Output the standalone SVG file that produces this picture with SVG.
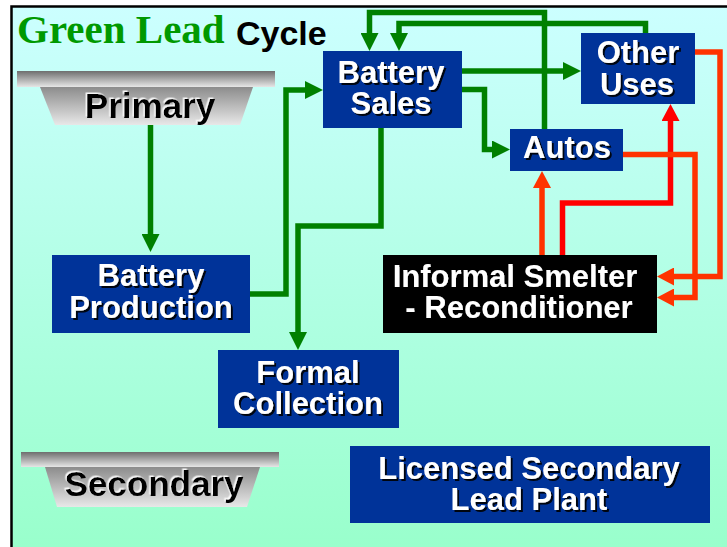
<svg xmlns="http://www.w3.org/2000/svg" width="727" height="547" viewBox="0 0 727 547">
<defs>
<linearGradient id="bg" x1="0" y1="0" x2="0" y2="1">
<stop offset="0" stop-color="#ccffff"/>
<stop offset="1" stop-color="#99ffcc"/>
</linearGradient>
<linearGradient id="bar" x1="0" y1="0" x2="0" y2="1">
<stop offset="0" stop-color="#6e6e6e"/>
<stop offset="1" stop-color="#e6e6e6"/>
</linearGradient>
<linearGradient id="trap" x1="0" y1="0" x2="0" y2="1">
<stop offset="0" stop-color="#8c8c8c"/>
<stop offset="1" stop-color="#e8e8e8"/>
</linearGradient>
<filter id="shd" x="-10%" y="-20%" width="120%" height="140%">
<feDropShadow dx="2" dy="2" stdDeviation="0.3" flood-color="#000000" flood-opacity="0.9"/>
</filter>
<filter id="shw" x="-10%" y="-20%" width="120%" height="140%">
<feDropShadow dx="-1.5" dy="-1.5" stdDeviation="0.3" flood-color="#ffffff" flood-opacity="0.9"/>
</filter>
<marker id="ag" markerUnits="userSpaceOnUse" markerWidth="18" markerHeight="18" refX="0" refY="9" orient="auto">
<path d="M0,0 L18,9 L0,18 z" fill="#008000"/>
</marker>
<marker id="ao" markerUnits="userSpaceOnUse" markerWidth="17" markerHeight="18" refX="0" refY="9" orient="auto">
<path d="M0,0 L17,9 L0,18 z" fill="#ff3300"/>
</marker>
<marker id="ar" markerUnits="userSpaceOnUse" markerWidth="17" markerHeight="18" refX="0" refY="9" orient="auto">
<path d="M0,0 L17,9 L0,18 z" fill="#ff0000"/>
</marker>
</defs>
<style>
.box{fill:#003399}
.blk{fill:#000000}
.bt{font-family:"Liberation Sans",Arial,sans-serif;font-weight:bold;font-size:31px;fill:#ffffff;text-anchor:middle}
.gt{font-family:"Liberation Sans",Arial,sans-serif;font-weight:bold;font-size:35px;fill:#000000;text-anchor:middle}
.g{fill:none;stroke:#008000;stroke-width:5.5}
.o{fill:none;stroke:#ff3300;stroke-width:5.5}
.r{fill:none;stroke:#ff0000;stroke-width:5.5}
</style>
<rect x="0" y="0" width="727" height="547" fill="#ffffff"/>
<rect x="11" y="6" width="716" height="541" fill="url(#bg)"/>
<path d="M11.5,547 V6.5 H727" fill="none" stroke="#000000" stroke-width="2.5"/>
<g id="title">
<text x="17" y="43" font-family="Liberation Serif,'Times New Roman',serif" font-weight="bold" font-size="41" fill="#009900">Green Lead</text>
<text x="236" y="45" font-family="Liberation Sans,Arial,sans-serif" font-weight="bold" font-size="34" fill="#000000">Cycle</text>
</g>
<g id="connectors">
<path class="g" d="M150.5,125 V234" marker-end="url(#ag)"/>
<path class="g" d="M250,294 H286 V90 H305" marker-end="url(#ag)"/>
<path class="g" d="M381,128 V226 H298 V332" marker-end="url(#ag)"/>
<path class="g" d="M461,71 H563" marker-end="url(#ag)"/>
<path class="g" d="M461,89.5 H484.5 V149.5 H492" marker-end="url(#ag)"/>
<path class="g" d="M544.5,129 V12.5 H369.5 V33" marker-end="url(#ag)"/>
<path class="g" d="M645.5,33 V23.5 H399 V33" marker-end="url(#ag)"/>
<path class="o" d="M542,255 V188" marker-end="url(#ao)"/>
<path class="r" d="M562.5,255 V203 H670.5 V121" marker-end="url(#ar)"/>
<path class="o" d="M623,154.5 H695 V297.5 H674" marker-end="url(#ao)"/>
<path class="o" d="M695,52 H720 V276.5 H674" marker-end="url(#ao)"/>
</g>
<g id="primary">
<rect x="17" y="71" width="258" height="16" fill="url(#bar)"/>
<polygon points="40,87 253,87 240,125 55,125" fill="url(#trap)"/>
<text class="gt" x="150" y="118" filter="url(#shw)">Primary</text>
</g>
<g id="secondary">
<rect x="21" y="452" width="258" height="15" fill="url(#bar)"/>
<polygon points="45,467 260,467 247,507 57,507" fill="url(#trap)"/>
<text class="gt" x="154" y="496" filter="url(#shw)">Secondary</text>
</g>
<g id="battery-production">
<rect class="box" x="52" y="255" width="198" height="78"/>
<g filter="url(#shd)">
<text class="bt" x="151" y="286">Battery</text>
<text class="bt" x="151" y="318">Production</text>
</g>
</g>
<g id="battery-sales">
<rect class="box" x="323" y="51" width="139" height="77"/>
<g filter="url(#shd)">
<text class="bt" x="391" y="83">Battery</text>
<text class="bt" x="391" y="114">Sales</text>
</g>
</g>
<g id="other-uses">
<rect class="box" x="581" y="33" width="114" height="71"/>
<g filter="url(#shd)">
<text class="bt" x="638" y="63">Other</text>
<text class="bt" x="637" y="95">Uses</text>
</g>
</g>
<g id="autos">
<rect class="box" x="510" y="129" width="113" height="42"/>
<text class="bt" x="567" y="158" filter="url(#shd)">Autos</text>
</g>
<g id="informal-smelter">
<rect class="blk" x="383" y="255" width="274" height="78"/>
<g filter="url(#shd)">
<text class="bt" x="515" y="287">Informal Smelter</text>
<text class="bt" x="519" y="318">- Reconditioner</text>
</g>
</g>
<g id="formal-collection">
<rect class="box" x="218" y="350" width="181" height="78"/>
<g filter="url(#shd)">
<text class="bt" x="308" y="383">Formal</text>
<text class="bt" x="308" y="414">Collection</text>
</g>
</g>
<g id="licensed-plant">
<rect class="box" x="350" y="446" width="360" height="77"/>
<g filter="url(#shd)">
<text class="bt" x="529" y="479">Licensed Secondary</text>
<text class="bt" x="529" y="510">Lead Plant</text>
</g>
</g>
</svg>
